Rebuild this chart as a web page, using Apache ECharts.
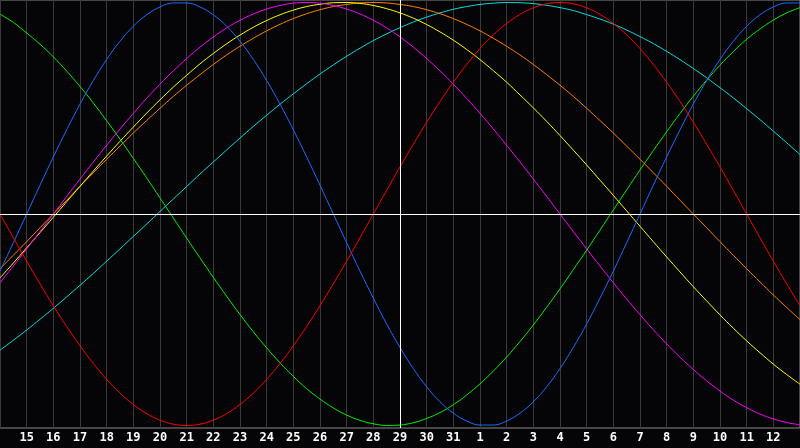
<!DOCTYPE html>
<html>
<head>
<meta charset="utf-8">
<style>
html,body{margin:0;padding:0;background:#050507;}
#c{width:800px;height:448px;}
</style>
<script src="https://cdn.jsdelivr.net/npm/echarts@6/dist/echarts.min.js"></script>
</head>
<body>
<div id="c"></div>
<script>
// sample positions in days: 14..44 in half-day steps (values above 31 wrap to next month)
const days = [14,14.5,15,15.5,16,16.5,17,17.5,18,18.5,19,19.5,20,20.5,21,21.5,22,22.5,23,23.5,24,24.5,25,25.5,26,26.5,27,27.5,28,28.5,29,29.5,30,30.5,31,31.5,32,32.5,33,33.5,34,34.5,35,35.5,36,36.5,37,37.5,38,38.5,39,39.5,40,40.5,41,41.5,42,42.5,43,43.5,44];
const todayDay = 29;

const blueVals = [-0.270,-0.136,0,0.136,0.270,0.398,0.520,0.631,0.731,0.817,0.888,0.942,0.979,0.998,0.998,0.979,0.942,0.888,0.817,0.731,0.631,0.520,0.398,0.270,0.136,0,-0.136,-0.270,-0.398,-0.520,-0.631,-0.731,-0.817,-0.888,-0.942,-0.979,-0.998,-0.998,-0.979,-0.942,-0.888,-0.817,-0.731,-0.631,-0.520,-0.398,-0.270,-0.136,0,0.136,0.270,0.398,0.520,0.631,0.731,0.817,0.888,0.942,0.979,0.998,0.998];
const redVals = [0,-0.112,-0.223,-0.330,-0.434,-0.532,-0.623,-0.707,-0.782,-0.847,-0.901,-0.944,-0.975,-0.994,-1,-0.994,-0.975,-0.944,-0.901,-0.847,-0.782,-0.707,-0.623,-0.532,-0.434,-0.330,-0.223,-0.112,0,0.112,0.223,0.330,0.434,0.532,0.623,0.707,0.782,0.847,0.901,0.944,0.975,0.994,1,0.994,0.975,0.944,0.901,0.847,0.782,0.707,0.623,0.532,0.434,0.330,0.223,0.112,0,-0.112,-0.223,-0.330,-0.434];
const greenVals = [0.945,0.906,0.856,0.803,0.743,0.676,0.603,0.525,0.441,0.354,0.263,0.171,0.076,-0.019,-0.114,-0.208,-0.300,-0.389,-0.475,-0.557,-0.633,-0.704,-0.768,-0.826,-0.875,-0.917,-0.951,-0.976,-0.992,-1.000,-0.998,-0.987,-0.967,-0.939,-0.902,-0.856,-0.803,-0.743,-0.676,-0.603,-0.525,-0.441,-0.354,-0.263,-0.171,-0.076,0.019,0.114,0.208,0.300,0.389,0.475,0.557,0.633,0.704,0.768,0.826,0.875,0.917,0.951,0.976];
const magentaVals = [-0.325,-0.246,-0.165,-0.083,0,0.083,0.165,0.246,0.325,0.402,0.476,0.547,0.614,0.677,0.735,0.789,0.837,0.880,0.916,0.946,0.969,0.986,0.997,1,0.997,0.986,0.969,0.946,0.916,0.880,0.837,0.789,0.735,0.677,0.614,0.547,0.476,0.402,0.325,0.246,0.165,0.083,0,-0.083,-0.165,-0.246,-0.325,-0.402,-0.476,-0.547,-0.614,-0.677,-0.735,-0.789,-0.837,-0.880,-0.916,-0.946,-0.969,-0.986,-0.997];
const yellowVals = [-0.302,-0.232,-0.160,-0.088,-0.015,0.058,0.131,0.203,0.274,0.344,0.411,0.477,0.540,0.600,0.656,0.710,0.759,0.805,0.846,0.883,0.915,0.942,0.964,0.981,0.992,0.999,1.000,0.996,0.986,0.971,0.951,0.926,0.896,0.861,0.822,0.778,0.730,0.678,0.623,0.563,0.502,0.438,0.371,0.302,0.232,0.160,0.088,0.015,-0.058,-0.131,-0.203,-0.274,-0.344,-0.411,-0.477,-0.540,-0.600,-0.656,-0.710,-0.759,-0.805];
const orangeVals = [-0.259,-0.195,-0.131,-0.065,0,0.065,0.131,0.195,0.259,0.321,0.383,0.442,0.5,0.556,0.609,0.659,0.707,0.752,0.793,0.831,0.866,0.897,0.924,0.947,0.966,0.981,0.991,0.998,1,0.998,0.991,0.981,0.966,0.947,0.924,0.897,0.866,0.831,0.793,0.752,0.707,0.659,0.609,0.556,0.5,0.442,0.383,0.321,0.259,0.195,0.131,0.065,0,-0.065,-0.131,-0.195,-0.259,-0.321,-0.383,-0.442,-0.5];
const cyanVals = [-0.644,-0.597,-0.549,-0.498,-0.446,-0.392,-0.337,-0.281,-0.223,-0.165,-0.106,-0.048,0.012,0.071,0.130,0.189,0.246,0.303,0.359,0.414,0.467,0.519,0.568,0.616,0.662,0.705,0.746,0.784,0.820,0.852,0.881,0.908,0.931,0.951,0.968,0.981,0.991,0.997,1.000,0.999,0.995,0.987,0.976,0.962,0.943,0.922,0.898,0.870,0.839,0.806,0.769,0.730,0.688,0.644,0.597,0.549,0.498,0.446,0.392,0.337,0.281];

const seriesDefs = [
  {name:'cyan', color:'#00e0e0', vals:cyanVals},
  {name:'orange', color:'#ff8000', vals:orangeVals},
  {name:'yellow', color:'#ffff00', vals:yellowVals},
  {name:'magenta', color:'#ff00ff', vals:magentaVals},
  {name:'green', color:'#00f000', vals:greenVals},
  {name:'blue', color:'#1a6cff', vals:blueVals},
  {name:'red', color:'#ff0000', vals:redVals}
];

const chart = echarts.init(document.getElementById('c'), null, {renderer:'canvas'});
const series = seriesDefs.map((s) => ({
  name: s.name,
  type: 'line',
  data: days.map((d, j) => [d, s.vals[j]]),
  smooth: 0.4,
  symbol: 'none',
  lineStyle: {color: s.color, width: 1},
  itemStyle: {color: s.color},
  z: 3,
  animation: false
}));
series.push({
  type: 'line',
  data: [],
  markLine: {
    silent: true,
    symbol: 'none',
    label: {show: false},
    lineStyle: {color: '#ffffff', width: 1, type: 'solid'},
    data: [{xAxis: todayDay}, {yAxis: 0}],
    animation: false
  },
  z: 2
});

chart.setOption({
  backgroundColor: '#050507',
  animation: false,
  grid: {left: 0, top: 0, right: -1, bottom: 20, show: true, borderColor: '#8a8a8a', borderWidth: 1, backgroundColor: 'transparent'},
  xAxis: {
    type: 'value',
    min: 14, max: 44, interval: 1,
    axisLine: {show: true, lineStyle: {color: '#8a8a8a'}},
    axisTick: {show: false},
    splitLine: {show: true, lineStyle: {color: '#3a3a3a', width: 1}},
    axisLabel: {
      show: true, color: '#ffffff', fontFamily: 'DejaVu Sans Mono', fontWeight: 'bold', fontSize: 12, margin: 4,
      showMinLabel: false, showMaxLabel: false,
      formatter: v => String(v > 31 ? v - 31 : v)
    }
  },
  yAxis: {
    type: 'value', min: -1.012, max: 1.012,
    axisLine: {show: false}, axisTick: {show: false}, axisLabel: {show: false}, splitLine: {show: false}
  },
  series: series
});
</script>
</body>
</html>
